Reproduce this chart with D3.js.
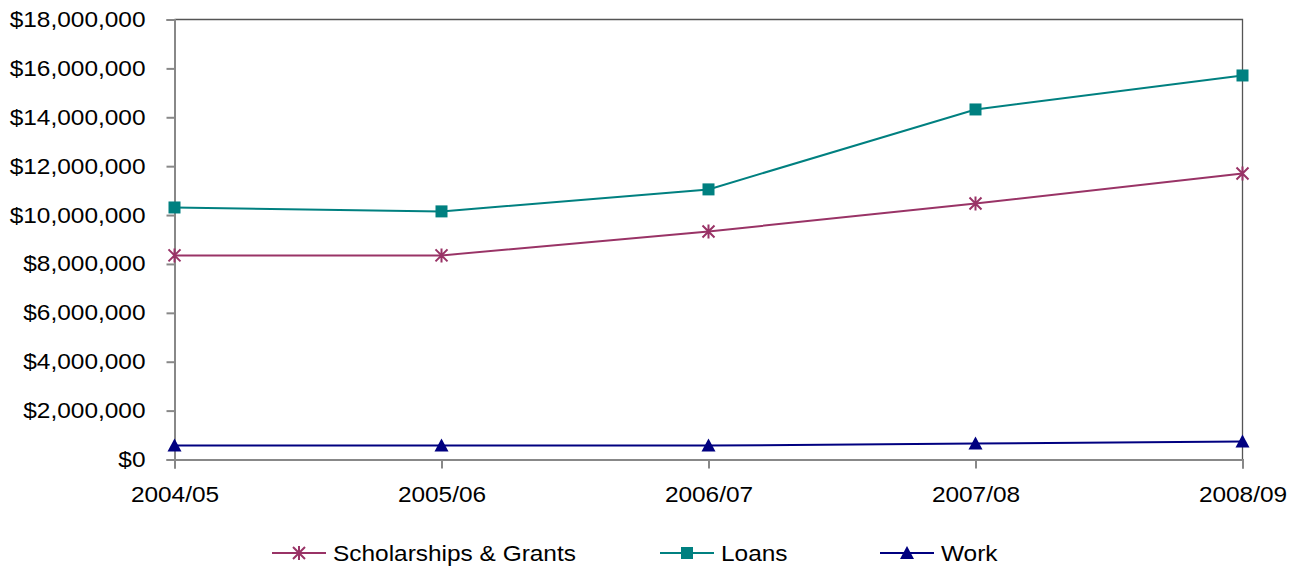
<!DOCTYPE html>
<html>
  <head>
    <meta charset="utf-8" />
    <title>Financial Aid</title>
    <script src="https://d3js.org/d3.v7.min.js"></script>
    <style>
        body {margin: 0; background: #fff;}
        text {font-family: "Liberation Sans", Arial, sans-serif; fill: #000;}
    </style>
  </head>
  <body>

    <svg id="chart" width="1304" height="569"></svg>

    <script>

        var years = ["2004/05", "2005/06", "2006/07", "2007/08", "2008/09"];
        var scholarships = [8350000, 8350000, 9330000, 10470000, 11700000];
        var loans = [10310000, 10150000, 11050000, 14320000, 15710000];
        var work = [570000, 570000, 570000, 650000, 740000];
        var yTicks = [0, 2000000, 4000000, 6000000, 8000000, 10000000, 12000000, 14000000, 16000000, 18000000];

        var series = [
            {name: "Scholarships & Grants", values: scholarships, color: "#993366", marker: "star"},
            {name: "Loans", values: loans, color: "#008080", marker: "square"},
            {name: "Work", values: work, color: "#000080", marker: "triangle"}
        ];

        var plotL = 174.5, plotR = 1242.5, plotT = 19.5, plotB = 459.5;
        var svg = d3.select("#chart");

        var x = d3.scalePoint().domain(years).range([plotL, plotR]);
        var y = d3.scaleLinear().domain([0, 18000000]).range([plotB, plotT]);

        // stretch text a bit wider, like the original
        function widen(sel) {
            sel.style("font-size", "22px").attr("fill", "#000").each(function() {
                var w = this.getComputedTextLength();
                d3.select(this).attr("textLength", w * 1.11).attr("lengthAdjust", "spacingAndGlyphs");
            });
        }

        // frame (top and right)
        svg.append("path")
            .attr("d", "M" + plotL + "," + plotT + "H" + plotR + "V" + plotB)
            .attr("fill", "none")
            .attr("stroke", "#555")
            .attr("stroke-width", 1.3);

        var fmt = function(d){ return "$" + d3.format(",")(d); };

        var yAxis = svg.append("g")
            .attr("transform", "translate(" + plotL + ",0)")
            .call(d3.axisLeft(y).tickValues(yTicks).tickFormat(fmt).tickSize(8).tickPadding(21));
        yAxis.select(".domain").attr("stroke", "#888").attr("stroke-width", 2);
        yAxis.selectAll(".tick line").attr("stroke", "#888").attr("stroke-width", 2);
        yAxis.selectAll("text").call(widen);

        var xAxis = svg.append("g")
            .attr("transform", "translate(0," + plotB + ")")
            .call(d3.axisBottom(x).tickSize(9).tickPadding(18));
        xAxis.select(".domain").attr("stroke", "#888").attr("stroke-width", 2);
        xAxis.selectAll(".tick line").attr("stroke", "#888").attr("stroke-width", 2);
        xAxis.selectAll("text").call(widen);

        function drawMarker(g, type, color) {
            if (type === "square") {
                g.append("rect").attr("x", -6).attr("y", -6).attr("width", 12).attr("height", 12)
                    .attr("fill", color);
            } else if (type === "triangle") {
                g.append("path").attr("d", "M0,-7L7,6L-7,6Z").attr("fill", color);
            } else {
                g.append("path").attr("d", "M-6,-6L6,6M-6,6L6,-6M0,-7V7")
                    .attr("stroke", color).attr("stroke-width", 2).attr("fill", "none");
            }
        }

        var line = d3.line()
            .x(function(d, i){ return x(years[i]); })
            .y(function(d){ return y(d); });

        series.forEach(function(s) {
            svg.append("path")
                .attr("d", line(s.values))
                .attr("fill", "none")
                .attr("stroke", s.color)
                .attr("stroke-width", 2);

            s.values.forEach(function(v, i) {
                var g = svg.append("g")
                    .attr("transform", "translate(" + x(years[i]) + "," + y(v) + ")");
                drawMarker(g, s.marker, s.color);
            });
        });

        // legend
        var legendX = [272, 660, 880];
        series.forEach(function(s, i) {
            var lg = svg.append("g").attr("transform", "translate(" + legendX[i] + ",553)");
            lg.append("line").attr("x1", 0).attr("x2", 54).attr("stroke", s.color).attr("stroke-width", 2);
            var m = lg.append("g").attr("transform", "translate(27,0)");
            drawMarker(m, s.marker, s.color);
            lg.append("text").attr("x", 61).attr("y", 8).text(s.name).call(widen);
        });

    </script>

  </body>
</html>
